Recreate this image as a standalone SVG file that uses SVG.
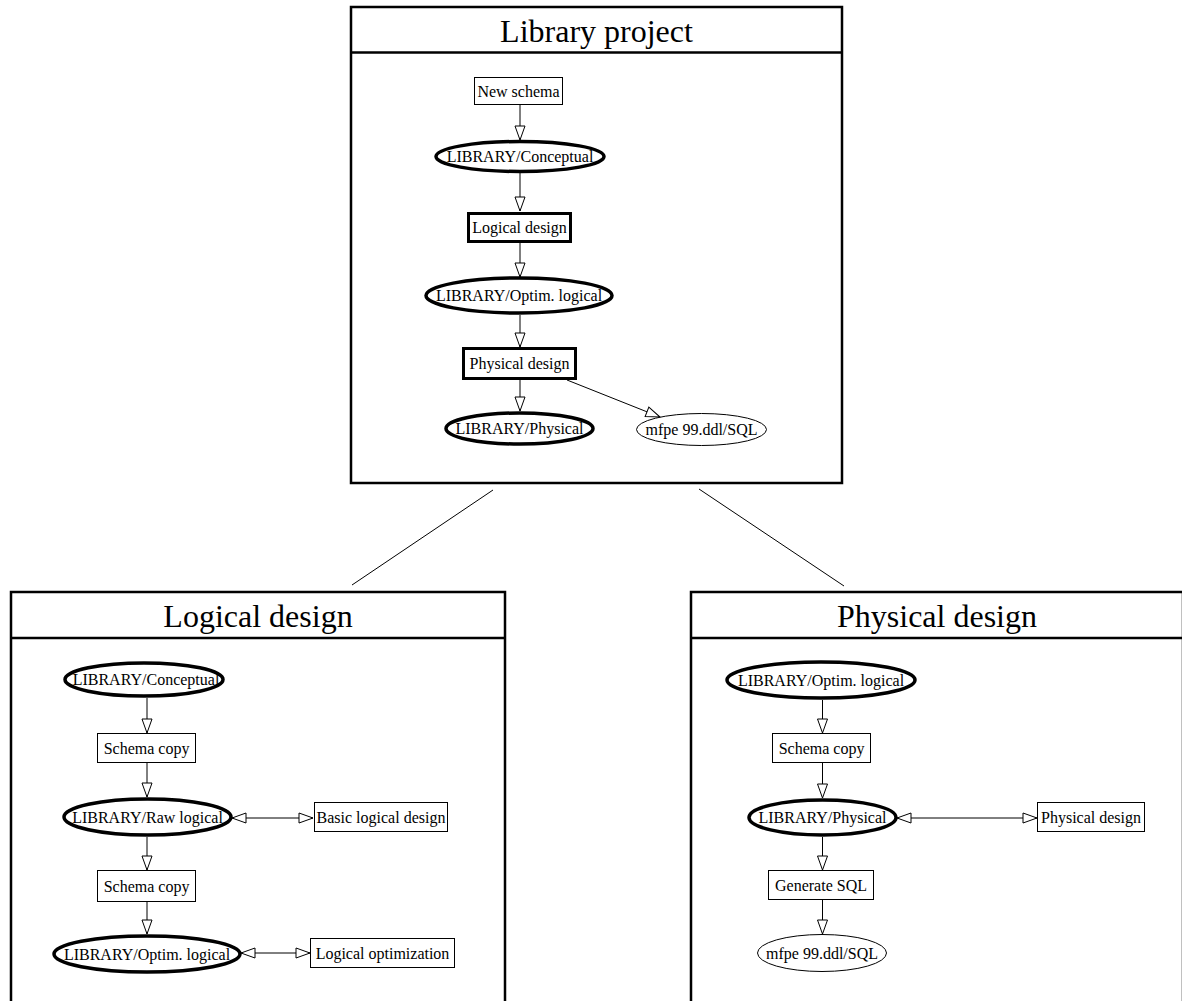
<svg xmlns="http://www.w3.org/2000/svg" width="1182" height="1001" viewBox="0 0 1182 1001">
  <style>
    text { font-family: "Liberation Serif", "Times New Roman", serif; fill: #000; text-anchor: middle; }
    .lbl { font-size: 16px; }
    .title { font-size: 32px; }
    .frame { fill: none; stroke: #000; stroke-width: 2.5; }
    .box { fill: #fff; stroke: #000; stroke-width: 1; }
    .box-thick { fill: #fff; stroke: #000; stroke-width: 3; }
    .oval { fill: #fff; stroke: #000; stroke-width: 1; }
    .oval-thick { fill: #fff; stroke: #000; stroke-width: 3.5; }
    .edge { fill: none; stroke: #000; stroke-width: 1; marker-end: url(#tri); }
    .edge2 { fill: none; stroke: #000; stroke-width: 1; marker-start: url(#tri); marker-end: url(#tri); }
    .link { fill: none; stroke: #000; stroke-width: 1; }
  </style>
  <defs>
    <marker id="tri" viewBox="0 0 16 12" refX="15" refY="6" markerWidth="16" markerHeight="12" markerUnits="userSpaceOnUse" orient="auto-start-reverse">
      <path d="M1,1 L15,6 L1,11 z" fill="#fff" stroke="#000" stroke-width="1"/>
    </marker>
  </defs>
  <rect width="1182" height="1001" fill="#fff"/>

  <!-- frames -->
  <g id="frame-library-project">
    <rect class="frame" x="351" y="7" width="491" height="476"/>
    <line class="frame" x1="351" y1="52.5" x2="842" y2="52.5"/>
    <text class="title" x="596.5" y="42">Library project</text>
  </g>
  <g id="frame-logical-design">
    <rect class="frame" x="11" y="592" width="494" height="500"/>
    <line class="frame" x1="11" y1="638" x2="505" y2="638"/>
    <text class="title" x="258" y="627">Logical design</text>
  </g>
  <g id="frame-physical-design">
    <rect class="frame" x="691" y="592" width="492" height="500"/>
    <line class="frame" x1="691" y1="638" x2="1183" y2="638"/>
    <text class="title" x="937" y="627">Physical design</text>
  </g>

  <!-- connectors -->
  <g id="connectors">
    <line class="link" x1="493" y1="490" x2="352" y2="585"/>
    <line class="link" x1="699" y1="489" x2="844" y2="586"/>

    <line class="edge" x1="520" y1="105" x2="520" y2="140"/>
    <line class="edge" x1="520" y1="173" x2="520" y2="211"/>
    <line class="edge" x1="520" y1="243" x2="520" y2="277"/>
    <line class="edge" x1="520" y1="315" x2="520" y2="347"/>
    <line class="edge" x1="520" y1="380" x2="520" y2="411"/>
    <line class="edge" x1="567" y1="380" x2="660" y2="417"/>

    <line class="edge" x1="147" y1="698" x2="147" y2="733"/>
    <line class="edge" x1="147" y1="763" x2="147" y2="797"/>
    <line class="edge2" x1="232" y1="818" x2="313" y2="818"/>
    <line class="edge" x1="147" y1="837" x2="147" y2="870"/>
    <line class="edge" x1="147" y1="902" x2="147" y2="934"/>
    <line class="edge2" x1="241" y1="953" x2="310" y2="953"/>

    <line class="edge" x1="822.5" y1="700" x2="822.5" y2="733"/>
    <line class="edge" x1="822.5" y1="763" x2="822.5" y2="798"/>
    <line class="edge2" x1="897" y1="818" x2="1037" y2="818"/>
    <line class="edge" x1="822.5" y1="837" x2="822.5" y2="870"/>
    <line class="edge" x1="822.5" y1="900" x2="822.5" y2="934"/>
  </g>

  <!-- Library project nodes -->
  <g id="lp-new-schema">
    <rect class="box" x="474.5" y="77.5" width="88" height="27"/>
    <text class="lbl" x="518.5" y="96.5">New schema</text>
  </g>
  <g id="lp-conceptual">
    <ellipse class="oval-thick" cx="520" cy="156.5" rx="84" ry="15"/>
    <text class="lbl" x="520" y="162">LIBRARY/Conceptual</text>
  </g>
  <g id="lp-logical-design">
    <rect class="box-thick" x="468.5" y="213.5" width="102" height="28"/>
    <text class="lbl" x="519.5" y="233">Logical design</text>
  </g>
  <g id="lp-optim-logical">
    <ellipse class="oval-thick" cx="519" cy="295.5" rx="93" ry="17.5"/>
    <text class="lbl" x="519" y="301">LIBRARY/Optim. logical</text>
  </g>
  <g id="lp-physical-design">
    <rect class="box-thick" x="463.5" y="348.5" width="112" height="30"/>
    <text class="lbl" x="519.5" y="369">Physical design</text>
  </g>
  <g id="lp-physical">
    <ellipse class="oval-thick" cx="519.5" cy="428.5" rx="73.5" ry="15.5"/>
    <text class="lbl" x="519.5" y="434">LIBRARY/Physical</text>
  </g>
  <g id="lp-sql">
    <ellipse class="oval" cx="701.5" cy="429.5" rx="65" ry="16"/>
    <text class="lbl" x="701.5" y="435">mfpe 99.ddl/SQL</text>
  </g>

  <!-- Logical design nodes -->
  <g id="ld-conceptual">
    <ellipse class="oval-thick" cx="144" cy="679.5" rx="79" ry="16.5"/>
    <text class="lbl" x="146" y="685">LIBRARY/Conceptual</text>
  </g>
  <g id="ld-schema-copy-1">
    <rect class="box" x="97.5" y="733.5" width="98" height="29"/>
    <text class="lbl" x="146.5" y="753.5">Schema copy</text>
  </g>
  <g id="ld-raw-logical">
    <ellipse class="oval-thick" cx="147.5" cy="817" rx="83.5" ry="18"/>
    <text class="lbl" x="147.5" y="822.5">LIBRARY/Raw logical</text>
  </g>
  <g id="ld-basic-logical-design">
    <rect class="box" x="314.5" y="802.5" width="133" height="29"/>
    <text class="lbl" x="381" y="822.5">Basic logical design</text>
  </g>
  <g id="ld-schema-copy-2">
    <rect class="box" x="97.5" y="870.5" width="98" height="31"/>
    <text class="lbl" x="146.5" y="891.5">Schema copy</text>
  </g>
  <g id="ld-optim-logical">
    <ellipse class="oval-thick" cx="147" cy="954" rx="93" ry="18"/>
    <text class="lbl" x="147" y="959.5">LIBRARY/Optim. logical</text>
  </g>
  <g id="ld-logical-optimization">
    <rect class="box" x="310.5" y="938.5" width="144" height="29"/>
    <text class="lbl" x="382.5" y="958.5">Logical optimization</text>
  </g>

  <!-- Physical design nodes -->
  <g id="pd-optim-logical">
    <ellipse class="oval-thick" cx="821" cy="680" rx="94" ry="18"/>
    <text class="lbl" x="821" y="685.5">LIBRARY/Optim. logical</text>
  </g>
  <g id="pd-schema-copy">
    <rect class="box" x="772.5" y="733.5" width="98" height="29"/>
    <text class="lbl" x="821.5" y="753.5">Schema copy</text>
  </g>
  <g id="pd-physical">
    <ellipse class="oval-thick" cx="822.5" cy="817.5" rx="73.5" ry="17.5"/>
    <text class="lbl" x="822.5" y="823">LIBRARY/Physical</text>
  </g>
  <g id="pd-physical-design">
    <rect class="box" x="1037.5" y="802.5" width="107" height="29"/>
    <text class="lbl" x="1091" y="822.5">Physical design</text>
  </g>
  <g id="pd-generate-sql">
    <rect class="box" x="768.5" y="870.5" width="105" height="29"/>
    <text class="lbl" x="821" y="890.5">Generate SQL</text>
  </g>
  <g id="pd-sql">
    <ellipse class="oval" cx="822" cy="953" rx="64.5" ry="18.5"/>
    <text class="lbl" x="822" y="958.5">mfpe 99.ddl/SQL</text>
  </g>
</svg>
